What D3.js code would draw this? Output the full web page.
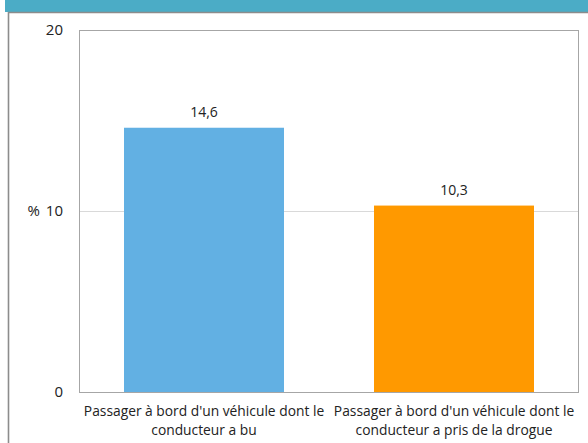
<!DOCTYPE html>
<html>
<head>
<meta charset="utf-8">
<script src="https://cdn.jsdelivr.net/npm/d3@7"></script>
<style>
  html, body { margin: 0; padding: 0; background: #fff; }
  svg { display: block; }
  text { font-family: "Open Sans", "Noto Sans", sans-serif; fill: #222; }
</style>
</head>
<body>
<svg id="chart" width="588" height="443"></svg>
<script>
// Chart data
const categories = [
  ["Passager à bord d'un véhicule dont le", "conducteur a bu"],
  ["Passager à bord d'un véhicule dont le", "conducteur a pris de la drogue"]
];
const values = [14.6, 10.3];
const valueLabels = ["14,6", "10,3"];
const barColors = ["#62b0e3", "#ff9900"];
const yTicks = [0, 10, 20];
const yTickLabels = ["0", "10", "20"];

const svg = d3.select("#chart");
const W = 588, H = 443;
const plot = { left: 79, right: 579, top: 30, bottom: 392 };

// Header band and frame
svg.append("rect").attr("x", 5).attr("y", 0).attr("width", W - 5).attr("height", 12)
  .attr("fill", "#4bacc6");
svg.append("path")
  .attr("d", `M8.5,${H} V12.5 H${W}`)
  .attr("fill", "none").attr("stroke", "#8c8c8c").attr("stroke-width", 1.6);

const x = d3.scaleBand().domain(d3.range(values.length))
  .range([plot.left, plot.right]).paddingInner(0.36).paddingOuter(0.18);
const y = d3.scaleLinear().domain([0, 20]).range([plot.bottom, plot.top]);

// Gridlines
svg.append("g").selectAll("line").data(yTicks.filter(t => t > 0 && t < 20)).join("line")
  .attr("x1", plot.left).attr("x2", plot.right)
  .attr("y1", d => Math.round(y(d)) + 0.5).attr("y2", d => Math.round(y(d)) + 0.5)
  .attr("stroke", "#d9d9d9").attr("stroke-width", 1);

// Bars
svg.append("g").selectAll("rect").data(values).join("rect")
  .attr("x", (d, i) => x(i)).attr("width", x.bandwidth())
  .attr("y", d => y(d)).attr("height", d => y(0) - y(d))
  .attr("fill", (d, i) => barColors[i]);

// Plot area border
svg.append("rect")
  .attr("x", plot.left + 0.5).attr("y", plot.top + 0.5)
  .attr("width", plot.right - plot.left - 1).attr("height", plot.bottom - plot.top)
  .attr("fill", "none").attr("stroke", "#a6a6a6").attr("stroke-width", 1);

// Value labels
svg.append("g").selectAll("text").data(values).join("text")
  .attr("x", (d, i) => x(i) + x.bandwidth() / 2)
  .attr("y", d => y(d) - 11)
  .attr("text-anchor", "middle").attr("font-size", 14)
  .text((d, i) => valueLabels[i]);

// Y axis
const yAxis = d3.axisLeft(y).tickValues(yTicks)
  .tickFormat((d, i) => yTickLabels[i]).tickSize(0).tickPadding(16);
const gy = svg.append("g").attr("transform", `translate(${plot.left},0)`).call(yAxis);
gy.select(".domain").remove();
gy.selectAll("text").attr("font-size", 15).attr("fill", "#222")
  .attr("font-family", "'Open Sans', sans-serif");

svg.append("text").attr("x", 40).attr("y", y(10)).attr("dy", "0.32em")
  .attr("text-anchor", "end").attr("font-size", 15).text("%");

// Category labels
const cat = svg.append("g").selectAll("text").data(categories).join("text")
  .attr("x", (d, i) => x(i) + x.bandwidth() / 2)
  .attr("y", plot.bottom + 24)
  .attr("text-anchor", "middle").attr("font-size", 13.8);
cat.selectAll("tspan").data(d => d).join("tspan")
  .attr("x", function () { return d3.select(this.parentNode).attr("x"); })
  .attr("dy", (d, i) => i === 0 ? 0 : 19)
  .text(d => d);
</script>
</body>
</html>
